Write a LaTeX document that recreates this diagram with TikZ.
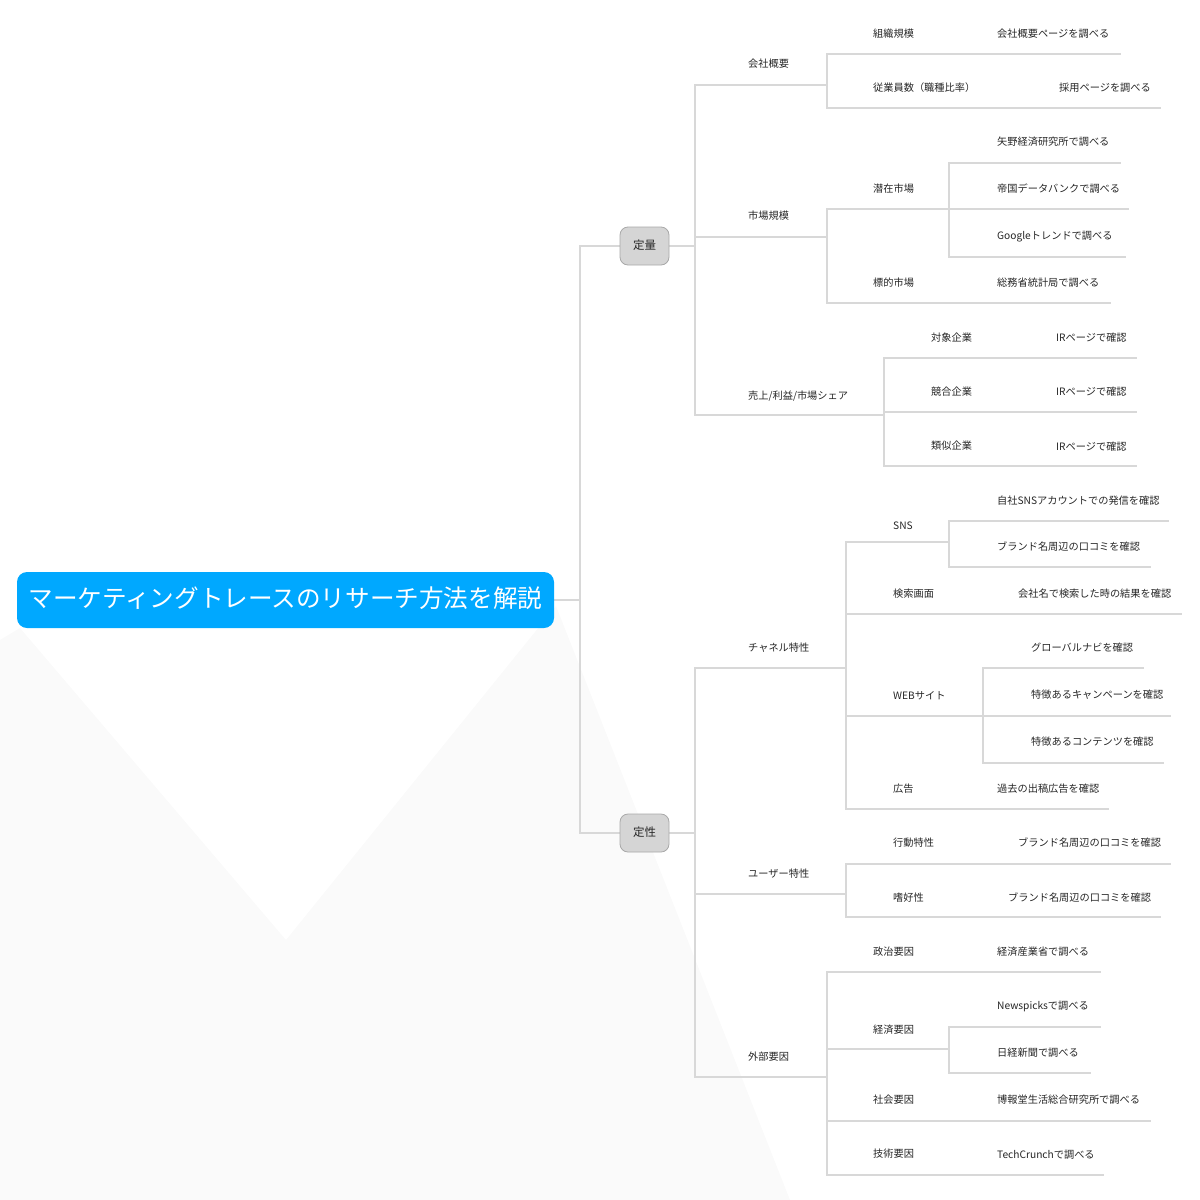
\documentclass[tikz,border=0pt]{standalone}
\usepackage{fontspec}
\setmainfont{Noto Sans CJK JP}
\definecolor{lncol}{HTML}{D8D8D8}
\definecolor{txtcol}{HTML}{262626}
\definecolor{rootcol}{HTML}{00A8FF}
\definecolor{boxfill}{HTML}{D5D5D5}
\definecolor{boxdraw}{HTML}{A8A8A8}
\definecolor{bgcol}{HTML}{FAFAFA}
\begin{document}
\begin{tikzpicture}[x=1pt,y=-1pt,
  lnk/.style={draw=lncol,line width=1.8pt,line cap=rect},
  lbl/.style={anchor=west,inner sep=0pt,text=txtcol,font=\fontsize{10.2pt}{12pt}\selectfont},
  rootbox/.style={fill=rootcol,rounded corners=10pt,minimum width=537pt,minimum height=56pt,inner sep=0pt,text=white,font=\fontsize{24.6pt}{28pt}\selectfont},
  catbox/.style={fill=boxfill,draw=boxdraw,line width=0.8pt,rounded corners=8pt,minimum width=49pt,minimum height=38pt,inner sep=0pt,text=txtcol,font=\fontsize{11.5pt}{13pt}\selectfont}]
\useasboundingbox (0,0) rectangle (1200,1200);
% background watermark
\fill[bgcol] (0,640) -- (20,628) -- (286,940) -- (556,606) -- (790,1200) -- (0,1200) -- cycle;

% connectors
\draw[lnk] (554,600) -- (580,600);
\draw[lnk] (580,246) -- (580,833);
\draw[lnk] (580,246) -- (620,246);
\draw[lnk] (580,833) -- (620,833);
% 定量
\draw[lnk] (669,246) -- (695,246);
\draw[lnk] (695,85) -- (695,415);
\draw[lnk] (695,85) -- (827,85);
\draw[lnk] (827,54) -- (827,108);
\draw[lnk] (827,54) -- (1120,54);
\draw[lnk] (827,108) -- (1160,108);
\draw[lnk] (695,237) -- (827,237);
\draw[lnk] (827,209) -- (827,303);
\draw[lnk] (827,209) -- (1128,209);
\draw[lnk] (949,163) -- (949,257);
\draw[lnk] (949,163) -- (1120,163);
\draw[lnk] (949,257) -- (1125,257);
\draw[lnk] (827,303) -- (1110,303);
\draw[lnk] (695,415) -- (884,415);
\draw[lnk] (884,358) -- (884,466);
\draw[lnk] (884,358) -- (1136,358);
\draw[lnk] (884,412) -- (1136,412);
\draw[lnk] (884,466) -- (1136,466);
% 定性
\draw[lnk] (669,833) -- (695,833);
\draw[lnk] (695,668) -- (695,1077);
\draw[lnk] (695,668) -- (846,668);
\draw[lnk] (846,542) -- (846,809);
\draw[lnk] (846,542) -- (949,542);
\draw[lnk] (949,521) -- (949,567);
\draw[lnk] (949,521) -- (1168,521);
\draw[lnk] (949,567) -- (1150,567);
\draw[lnk] (846,614) -- (1181,614);
\draw[lnk] (846,716) -- (1170,716);
\draw[lnk] (983,668) -- (983,763);
\draw[lnk] (983,668) -- (1143,668);
\draw[lnk] (983,763) -- (1163,763);
\draw[lnk] (846,809) -- (1108,809);
\draw[lnk] (695,894) -- (846,894);
\draw[lnk] (846,864) -- (846,917);
\draw[lnk] (846,864) -- (1170,864);
\draw[lnk] (846,917) -- (1160,917);
\draw[lnk] (695,1077) -- (827,1077);
\draw[lnk] (827,972) -- (827,1175);
\draw[lnk] (827,972) -- (1100,972);
\draw[lnk] (827,1049) -- (949,1049);
\draw[lnk] (949,1027) -- (949,1073);
\draw[lnk] (949,1027) -- (1100,1027);
\draw[lnk] (949,1073) -- (1090,1073);
\draw[lnk] (827,1121) -- (1150,1121);
\draw[lnk] (827,1175) -- (1103,1175);

% nodes
\node[rootbox] (root) at (285.5,600) {\raisebox{5pt}{マーケティングトレースのリサーチ方法を解説}};
\node[catbox] (teiryo) at (644.5,246) {\raisebox{2pt}{定量}};
\node[catbox] (teisei) at (644.5,833) {\raisebox{2pt}{定性}};

\node[lbl] (kaisha) at (748,64) {会社概要};
\node[lbl] (shijo) at (748,216) {市場規模};
\node[lbl] (uriage) at (748,396) {売上/利益/市場シェア};
\node[lbl] (soshiki) at (873,34) {組織規模};
\node[lbl] (gaiyo) at (997,34) {会社概要ページを調べる};
\node[lbl] (jugyo) at (873,88) {従業員数（職種比率）};
\node[lbl] (saiyo) at (1059,88) {採用ページを調べる};
\node[lbl] (yano) at (997,142) {矢野経済研究所で調べる};
\node[lbl] (senzai) at (873,189) {潜在市場};
\node[lbl] (teikoku) at (997,189) {帝国データバンクで調べる};
\node[lbl] (google) at (997,237) {Googleトレンドで調べる};
\node[lbl] (hyoteki) at (873,283) {標的市場};
\node[lbl] (somu) at (997,283) {総務省統計局で調べる};
\node[lbl] (taisho) at (931,338) {対象企業};
\node[lbl] (ira) at (1056,338) {IRページで確認};
\node[lbl] (kyogo) at (931,392) {競合企業};
\node[lbl] (irb) at (1056,392) {IRページで確認};
\node[lbl] (ruiji) at (931,446) {類似企業};
\node[lbl] (irc) at (1056,447) {IRページで確認};

\node[lbl] (channel) at (748,648) {チャネル特性};
\node[lbl] (user) at (748,874) {ユーザー特性};
\node[lbl] (gaibu) at (748,1057) {外部要因};
\node[lbl] (jisha) at (997,501) {自社SNSアカウントでの発信を確認};
\node[lbl] (sns) at (893,526) {SNS};
\node[lbl] (brandA) at (997,547) {ブランド名周辺の口コミを確認};
\node[lbl] (kensaku) at (893,594) {検索画面};
\node[lbl] (kaishamei) at (1018,594) {会社名で検索した時の結果を確認};
\node[lbl] (global) at (1031,648) {グローバルナビを確認};
\node[lbl] (web) at (893,696) {WEBサイト};
\node[lbl] (campaign) at (1031,695) {特徴あるキャンペーンを確認};
\node[lbl] (contents) at (1031,742) {特徴あるコンテンツを確認};
\node[lbl] (kokoku) at (893,789) {広告};
\node[lbl] (kako) at (997,789) {過去の出稿広告を確認};
\node[lbl] (kodo) at (893,843) {行動特性};
\node[lbl] (brandB) at (1018,843) {ブランド名周辺の口コミを確認};
\node[lbl] (shiko) at (893,898) {嗜好性};
\node[lbl] (brandC) at (1008,898) {ブランド名周辺の口コミを確認};
\node[lbl] (seiji) at (873,952) {政治要因};
\node[lbl] (keisan) at (997,952) {経済産業省で調べる};
\node[lbl] (newspicks) at (997,1007) {Newspicksで調べる};
\node[lbl] (keizai) at (873,1030) {経済要因};
\node[lbl] (nikkei) at (997,1053) {日経新聞で調べる};
\node[lbl] (shakai) at (873,1100) {社会要因};
\node[lbl] (hakuhodo) at (997,1100) {博報堂生活総合研究所で調べる};
\node[lbl] (gijutsu) at (873,1154) {技術要因};
\node[lbl] (techcrunch) at (997,1155) {TechCrunchで調べる};
\end{tikzpicture}
\end{document}
